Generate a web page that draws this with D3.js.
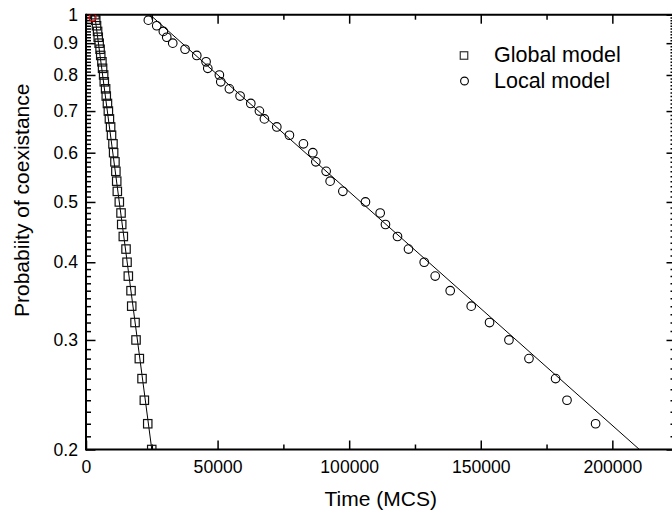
<!DOCTYPE html>
<html>
<head>
<meta charset="utf-8">
<script src="https://cdn.jsdelivr.net/npm/d3@7/dist/d3.min.js"></script>
<style>
  html, body { margin: 0; padding: 0; background: #fff; }
  svg { display: block; }
  text { font-family: "Liberation Sans", Arial, sans-serif; fill: #000; }
</style>
</head>
<body>
<svg id="chart" width="672" height="520"></svg>
<script>
// ---- data ----
const globalP = [1.00,0.98,0.96,0.94,0.92,0.90,0.88,0.86,0.84,0.82,0.80,0.78,0.76,0.74,0.72,0.70,0.68,0.66,0.64,0.62,0.60,0.58,0.56,0.54,0.52,0.50,0.48,0.46,0.44,0.42,0.40,0.38,0.36,0.34,0.32,0.30,0.28,0.26,0.24,0.22,0.20];
const globalT = [3400,3700,4000,4400,4650,5000,5350,5600,6050,6300,6700,6950,7450,7700,8150,8500,8900,9350,9700,10250,10500,11000,11350,11670,11900,12660,13310,13570,14180,15210,15590,16080,17110,17375,18630,19010,20265,21290,22170,23460,24980];

const localP = [0.98,0.96,0.94,0.92,0.90,0.88,0.86,0.84,0.82,0.80,0.78,0.76,0.74,0.72,0.70,0.68,0.66,0.64,0.62,0.60,0.58,0.56,0.54,0.52,0.50,0.48,0.46,0.44,0.42,0.40,0.38,0.36,0.34,0.32,0.30,0.28,0.26,0.24,0.22];
const localT = [23690,26880,29390,30680,32960,37640,42090,45620,46270,50680,51210,54480,58550,62620,65890,67790,72500,77300,82620,86190,87330,91250,92770,97600,106190,111780,113790,118360,122540,128510,132690,138390,146380,153340,160710,168320,178430,182770,193640];

// exponential fits (drawn as straight lines on the log axis)
const globalFitT = [3300, 25000];
const globalFitP = [1.0, 0.2];
const localFitT = [24300, 210300];
const localFitP = [1.0, 0.2];

// stray red marker at the origin corner
const redT = [2500];
const redP = [0.99];

const xMajor = [0, 50000, 100000, 150000, 200000];
const xMinor = [25000, 75000, 125000, 175000, 225000];
const yMajor = [0.2,0.3,0.4,0.5,0.6,0.7,0.8,0.9,1];
const yMajorLabels = ["0.2","0.3","0.4","0.5","0.6","0.7","0.8","0.9","1"];
const yMinor = d3.range(21, 100).map(v => v / 100).filter(v => Math.abs(v*10 - Math.round(v*10)) > 1e-6);

const seriesNames = ["Global model", "Local model"];
const xTitle = "Time (MCS)";
const yTitle = "Probabiity of coexistance";

// ---- layout ----
const L = 86, R = 675.5, T = 14.7, B = 449.5;
const x = d3.scaleLinear().domain([0, 224000]).range([L, R]);
const y = d3.scaleLog().domain([0.2, 1]).range([B, T]);

const svg = d3.select("#chart");

svg.append("defs").append("clipPath").attr("id", "plotclip")
  .append("rect").attr("x", L).attr("y", T).attr("width", R - L).attr("height", B - T);

const tickFont = "17.6px";

// bottom axis
const gB = svg.append("g").attr("transform", `translate(0,${B})`);
gB.call(d3.axisBottom(x).tickValues(xMajor).tickSize(-9).tickPadding(11).tickFormat(d3.format("d")));
gB.append("g").call(d3.axisBottom(x).tickValues(xMinor).tickSize(-5).tickFormat(""));
// top axis
const gT = svg.append("g").attr("transform", `translate(0,${T})`);
gT.call(d3.axisTop(x).tickValues(xMajor).tickSize(-9).tickFormat(""));
gT.append("g").call(d3.axisTop(x).tickValues(xMinor).tickSize(-5).tickFormat(""));
// left axis
const gL = svg.append("g").attr("transform", `translate(${L},0)`);
gL.call(d3.axisLeft(y).tickValues(yMajor).tickSize(-9.5).tickPadding(8)
  .tickFormat((d, i) => yMajorLabels[i]));
gL.append("g").call(d3.axisLeft(y).tickValues(yMinor).tickSize(-5).tickFormat(""));
// right axis
const gR = svg.append("g").attr("transform", `translate(${R},0)`);
gR.call(d3.axisRight(y).tickValues(yMajor).tickSize(-9).tickFormat(""));
gR.append("g").call(d3.axisRight(y).tickValues(yMinor).tickSize(-5).tickFormat(""));

svg.selectAll(".domain").remove();
svg.selectAll(".tick line").attr("stroke", "#000").attr("stroke-width", 1.5);
svg.selectAll(".tick text").style("font-size", tickFont).attr("fill", "#000");

// frame
const frame = svg.append("g").attr("stroke", "#000").attr("stroke-width", 2).attr("fill", "none");
frame.append("line").attr("x1", L).attr("x2", R).attr("y1", B).attr("y2", B);
frame.append("line").attr("x1", L).attr("x2", R).attr("y1", T).attr("y2", T);
frame.append("line").attr("x1", L).attr("x2", L).attr("y1", T - 1).attr("y2", B + 1);
frame.append("line").attr("x1", R).attr("x2", R).attr("y1", T - 1).attr("y2", B + 1);

// plot content
const plot = svg.append("g").attr("clip-path", "url(#plotclip)");
const line = d3.line().x(d => x(d[0])).y(d => y(d[1]));

plot.append("path").datum(globalFitT.map((t, i) => [t, globalFitP[i]]))
  .attr("d", line).attr("fill", "none").attr("stroke", "#000").attr("stroke-width", 1);
plot.append("path").datum(localFitT.map((t, i) => [t, localFitP[i]]))
  .attr("d", line).attr("fill", "none").attr("stroke", "#000").attr("stroke-width", 1);

const sq = 8.4;
plot.append("g").selectAll("rect").data(globalT.map((t, i) => [t, globalP[i]])).join("rect")
  .attr("x", d => x(d[0]) - sq / 2).attr("y", d => y(d[1]) - sq / 2)
  .attr("width", sq).attr("height", sq)
  .attr("fill", "none").attr("stroke", "#111").attr("stroke-width", 1.2);

plot.append("g").selectAll("circle").data(localT.map((t, i) => [t, localP[i]])).join("circle")
  .attr("cx", d => x(d[0])).attr("cy", d => y(d[1])).attr("r", 4.3)
  .attr("fill", "none").attr("stroke", "#000").attr("stroke-width", 1.1);

plot.append("g").selectAll("circle").data(redT.map((t, i) => [t, redP[i]])).join("circle")
  .attr("cx", d => x(d[0])).attr("cy", d => y(d[1])).attr("r", 3.5)
  .attr("fill", "none").attr("stroke", "#e00").attr("stroke-width", 1.1);

// legend
const lg = svg.append("g");
lg.append("rect").attr("x", 464 - 3.75).attr("y", 55.5 - 3.75).attr("width", 7.5).attr("height", 7.5)
  .attr("fill", "none").attr("stroke", "#333").attr("stroke-width", 1.2);
lg.append("circle").attr("cx", 464.5).attr("cy", 81).attr("r", 3.9)
  .attr("fill", "none").attr("stroke", "#000").attr("stroke-width", 1.1);
lg.append("text").attr("x", 494).attr("y", 62).style("font-size", "21.5px").text(seriesNames[0]);
lg.append("text").attr("x", 494).attr("y", 88).style("font-size", "21.5px").text(seriesNames[1]);

// axis titles
svg.append("text").attr("x", (L + R) / 2).attr("y", 506).attr("text-anchor", "middle")
  .style("font-size", "21px").text(xTitle);
svg.append("text").attr("transform", "translate(29,317) rotate(-90)").attr("text-anchor", "start")
  .style("font-size", "21px").text(yTitle);
</script>
</body>
</html>
